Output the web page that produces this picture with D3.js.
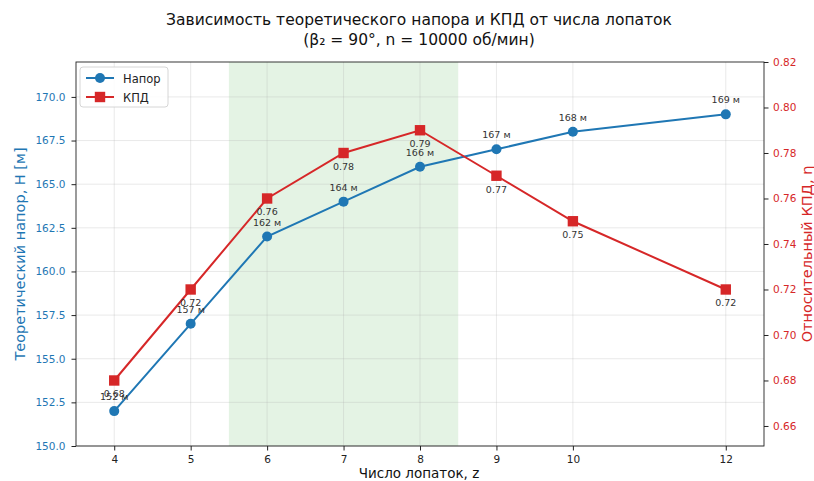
<!DOCTYPE html>
<html><head><meta charset="utf-8">
<script src="https://cdn.jsdelivr.net/npm/d3@7"></script>
<style>body{margin:0;background:#fff}svg{font-family:"DejaVu Sans",sans-serif}</style>
</head><body><svg id="c" width="814" height="481"></svg>
<script>
const blades = [4, 5, 6, 7, 8, 9, 10, 12];
const headValues = [152, 157, 162, 164, 166, 167, 168, 169];
const effValues = [0.68, 0.72, 0.76, 0.78, 0.79, 0.77, 0.75, 0.72];
const headTicks = [150, 152.5, 155, 157.5, 160, 162.5, 165, 167.5, 170];
const effTicks = [0.66, 0.68, 0.70, 0.72, 0.74, 0.76, 0.78, 0.80, 0.82];
const optimalRange = [5.5, 8.5];
const titleLines = ["Зависимость теоретического напора и КПД от числа лопаток", "(β₂ = 90°, n = 10000 об/мин)"];

const svg = d3.select("#c");
const L = 76, R = 764, T = 62, B = 446;
const blue = "#1f77b4", red = "#d62728";
const x = d3.scaleLinear().domain([3.5, 12.5]).range([L, R]);
const yL = d3.scaleLinear().domain([150, 172]).range([B, T]);
const yR = d3.scaleLinear().domain([0.6512, 0.82]).range([B, T]);

// shaded range
svg.append("rect").attr("x", x(optimalRange[0])).attr("y", T)
  .attr("width", x(optimalRange[1]) - x(optimalRange[0])).attr("height", B - T)
  .attr("fill", "#2ca02c").attr("fill-opacity", 0.13);

// grid
const g = svg.append("g").attr("stroke", "#b0b0b0").attr("stroke-opacity", 0.35).attr("stroke-width", 0.8);
blades.forEach(b => g.append("line").attr("x1", x(b)).attr("x2", x(b)).attr("y1", T).attr("y2", B));
headTicks.forEach(t => g.append("line").attr("x1", L).attr("x2", R).attr("y1", yL(t)).attr("y2", yL(t)));

// axes
const ax = svg.append("g").attr("transform", `translate(0,${B})`)
  .call(d3.axisBottom(x).tickValues(blades).tickFormat(d3.format("d")).tickSize(4.5).tickPadding(5));
const ayl = svg.append("g").attr("transform", `translate(${L},0)`)
  .call(d3.axisLeft(yL).tickValues(headTicks).tickFormat(d3.format(".1f")).tickSize(4.5).tickPadding(6));
const ayr = svg.append("g").attr("transform", `translate(${R},0)`)
  .call(d3.axisRight(yR).tickValues(effTicks).tickFormat(d3.format(".2f")).tickSize(4.5).tickPadding(4.5));
[ax, ayl, ayr].forEach(a => { a.select(".domain").remove(); a.selectAll("text").attr("font-size", 10.5).attr("font-family", "DejaVu Sans"); a.selectAll("line").attr("stroke", "#222"); });
ax.selectAll("text").attr("fill", "#222");
ayl.selectAll("text").attr("fill", blue);
ayr.selectAll("text").attr("fill", red);

// spines
svg.append("rect").attr("x", L).attr("y", T).attr("width", R - L).attr("height", B - T)
  .attr("fill", "none").attr("stroke", "#222").attr("stroke-width", 0.9);

// lines
const lineH = d3.line().x((d, i) => x(blades[i])).y(d => yL(d));
const lineE = d3.line().x((d, i) => x(blades[i])).y(d => yR(d));
svg.append("path").attr("d", lineH(headValues)).attr("fill", "none").attr("stroke", blue).attr("stroke-width", 2);
svg.selectAll(".ph").data(headValues).join("circle").attr("cx", (d, i) => x(blades[i])).attr("cy", d => yL(d)).attr("r", 5).attr("fill", blue);
svg.append("path").attr("d", lineE(effValues)).attr("fill", "none").attr("stroke", red).attr("stroke-width", 2);
svg.selectAll(".pe").data(effValues).join("rect").attr("x", (d, i) => x(blades[i]) - 5.2).attr("y", d => yR(d) - 5.2).attr("width", 10.4).attr("height", 10.4).attr("fill", red);

// annotations
svg.selectAll(".lh").data(headValues).join("text").attr("x", (d, i) => x(blades[i])).attr("y", d => yL(d) - 11)
  .attr("text-anchor", "middle").attr("font-size", 9.5).attr("fill", "#333").text(d => d + " м");
svg.selectAll(".le").data(effValues).join("text").attr("x", (d, i) => x(blades[i])).attr("y", d => yR(d) + 17)
  .attr("text-anchor", "middle").attr("font-size", 9.5).attr("fill", "#333").text(d => d.toFixed(2));

// titles
svg.selectAll(".tt").data(titleLines).join("text").attr("x", 419).attr("y", (d, i) => 25 + i * 20)
  .attr("text-anchor", "middle").attr("font-size", 15.5).attr("fill", "#111").text(d => d);
svg.append("text").attr("x", 419).attr("y", 478).attr("text-anchor", "middle").attr("font-size", 13.5).attr("fill", "#111").text("Число лопаток, z");
svg.append("text").attr("transform", `translate(25,${(T + B) / 2}) rotate(-90)`).attr("text-anchor", "middle").attr("font-size", 14.5).attr("fill", blue).text("Теоретический напор, H [м]");
svg.append("text").attr("transform", `translate(812,${(T + B) / 2}) rotate(-90)`).attr("text-anchor", "middle").attr("font-size", 14.5).attr("fill", red).text("Относительный КПД, η");

// legend
const lg = svg.append("g").attr("transform", "translate(80,67)");
lg.append("rect").attr("width", 88).attr("height", 40).attr("rx", 3).attr("fill", "#fff").attr("fill-opacity", 0.85).attr("stroke", "#ccc").attr("stroke-width", 0.8);
[["Напор", blue, "c"], ["КПД", red, "s"]].forEach((e, i) => {
  const yy = 11 + i * 19;
  lg.append("line").attr("x1", 6).attr("x2", 34).attr("y1", yy).attr("y2", yy).attr("stroke", e[1]).attr("stroke-width", 2);
  if (e[2] === "c") lg.append("circle").attr("cx", 20).attr("cy", yy).attr("r", 5).attr("fill", e[1]);
  else lg.append("rect").attr("x", 14.8).attr("y", yy - 5.2).attr("width", 10.4).attr("height", 10.4).attr("fill", e[1]);
  lg.append("text").attr("x", 43).attr("y", yy + 4.5).attr("font-size", 11.5).attr("fill", "#222").text(e[0]);
});
</script></body></html>
